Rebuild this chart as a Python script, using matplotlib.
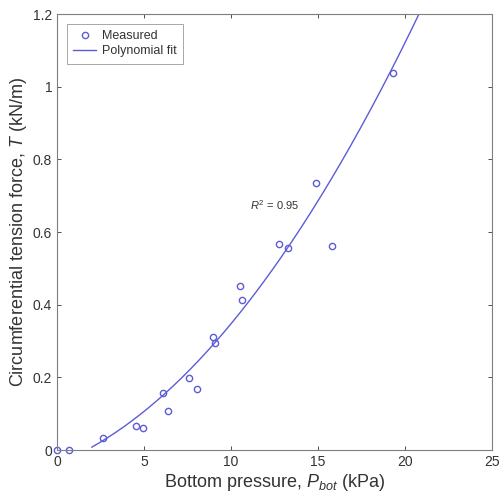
import matplotlib
matplotlib.use("Agg")
import matplotlib.pyplot as plt
import numpy as np

plt.rcParams['font.family'] = ['Liberation Sans', 'DejaVu Sans']
plt.rcParams['mathtext.fontset'] = 'custom'
plt.rcParams['mathtext.rm'] = 'Liberation Sans'
plt.rcParams['mathtext.it'] = 'Liberation Sans:italic'

# measured points
p_bot = [0.0, 0.7, 2.64, 4.54, 4.94, 6.09, 6.38, 7.59, 8.05, 8.97, 9.08,
         10.5, 10.63, 12.76, 13.28, 14.89, 15.8, 19.31]
tension = [0.0, 0.0, 0.033, 0.066, 0.061, 0.157, 0.107, 0.198, 0.168, 0.311,
           0.295, 0.451, 0.413, 0.567, 0.556, 0.735, 0.561, 1.038]

# quadratic fit coefficients (estimated from the drawn curve)
fit_coef = [0.00194, 0.01916, -0.038]
fit_range = [2.0, 21.0]

xticks = [0, 5, 10, 15, 20, 25]
yticks = [0, 0.2, 0.4, 0.6, 0.8, 1.0, 1.2]
ylabels = ['0', '0.2', '0.4', '0.6', '0.8', '1', '1.2']

blue = '#5c5cd6'
grey = '#333333'

fig = plt.figure(figsize=(5.01, 5.04), dpi=100)
ax = fig.add_axes([0.1138, 0.107, 0.8682, 0.865])

xf = np.linspace(fit_range[0], fit_range[1], 200)
yf = np.polyval(fit_coef, xf)

ax.plot(p_bot, tension, 'o', mfc='none', mec=blue, ms=4.5, mew=1,
        label='Measured', clip_on=False)
ax.plot(xf, yf, '-', color=blue, lw=1, label='Polynomial fit')

ax.text(12.5, 0.674, r'$R^2$ = 0.95', fontsize=8, color=grey, ha='center', va='center')

ax.set_xlim(0, 25)
ax.set_ylim(0, 1.2)
ax.set_xticks(xticks)
ax.set_yticks(yticks)
ax.set_yticklabels(ylabels)
ax.tick_params(direction='in', top=True, right=True, labelsize=10, colors=grey,
               length=3, width=0.6)
for s in ax.spines.values():
    s.set_color('#7f7f7f')
    s.set_linewidth(0.8)

ax.set_xlabel(r'Bottom pressure, $P_{bot}$ (kPa)', fontsize=13, color=grey, labelpad=2)
ax.set_ylabel(r'Circumferential tension force, $T$ (kN/m)', fontsize=13, color=grey, labelpad=3)

leg = ax.legend(loc='upper left', fontsize=9, frameon=True, fancybox=False,
                edgecolor='#7f7f7f', borderpad=0.5, handlelength=1.8, handletextpad=0.5,
                labelspacing=0.25, borderaxespad=0.8)
for t in leg.get_texts():
    t.set_color(grey)
leg.get_frame().set_linewidth(0.6)

fig.savefig('out.png', dpi=100)
